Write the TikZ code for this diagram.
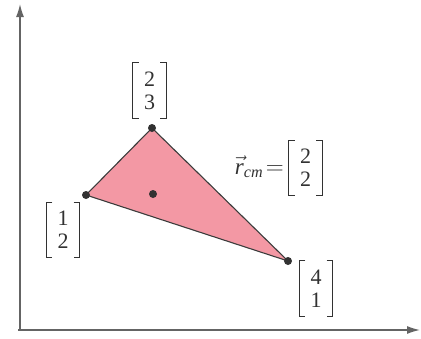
\documentclass[tikz,border=0pt]{standalone}
\usepackage{fontspec}
\setmainfont{Liberation Serif}
\usetikzlibrary{arrows.meta}
\definecolor{fillpink}{RGB}{243,152,164}
\definecolor{edgegray}{RGB}{60,60,60}
\definecolor{axisgray}{RGB}{100,100,100}
\definecolor{inkgray}{RGB}{50,50,50}
\tikzset{
  axisline/.style={draw=axisgray,line width=1.3pt,-{Latex[length=13pt,width=8pt]}},
  tri/.style={fill=fillpink,draw=edgegray,line width=1.1pt,line join=round},
  vdot/.style={circle,fill=inkgray,inner sep=0pt,minimum size=8pt},
  colvec/.style={inner sep=0pt,minimum width=33pt,minimum height=55pt,align=center,
    text=inkgray,font=\fontsize{22}{23}\selectfont},
  brk/.style={draw=inkgray,line width=0.9pt},
  lab/.style={text=inkgray,font=\fontsize{23}{24}\selectfont,inner sep=0pt}
}
\newcommand\brackets[1]{%
  \draw[brk] ([xshift=6pt]#1.north west) -- (#1.north west) -- (#1.south west) -- ([xshift=6pt]#1.south west);
  \draw[brk] ([xshift=-6pt]#1.north east) -- (#1.north east) -- (#1.south east) -- ([xshift=-6pt]#1.south east);}
\begin{document}
\begin{tikzpicture}[x=1pt,y=-1pt]
\useasboundingbox (0,0) rectangle (421,338);
% axes
\coordinate (O) at (20,330);
\coordinate (ytip) at (20,4);
\coordinate (xtip) at (420,330);
\draw[axisline] (O) -- (ytip);
\draw[axisline] ([xshift=-2pt]O) -- (xtip);
% triangle
\coordinate (A) at (86,195);
\coordinate (B) at (152,128);
\coordinate (C) at (288,261);
\path[tri] (A) -- (B) -- (C) -- cycle;
\node[vdot] (dA) at (A) {};
\node[vdot] (dB) at (B) {};
\node[vdot] (dC) at (C) {};
\node[vdot] (cm) at (153,194) {};
% column vectors
\node[colvec] (vB) at (149.5,90.5) {2\\3};
\node[colvec] (vA) at (63,230) {1\\2};
\node[colvec] (vC) at (316,288.5) {4\\1};
\node[colvec] (vR) at (305.5,168) {2\\2};
\brackets{vB}
\brackets{vA}
\brackets{vC}
\brackets{vR}
\node[lab,anchor=base east] (rlab) at (284,174) {$\vec{\mathit{r}}_{\mathit{cm}}\!=$};
\end{tikzpicture}
\end{document}
